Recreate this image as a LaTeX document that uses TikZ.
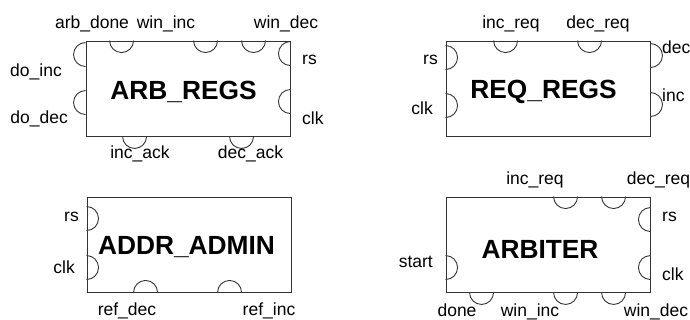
\documentclass[tikz,border=0pt]{standalone}
\usepackage{fontspec}
\setsansfont{Liberation Sans}
\usetikzlibrary{positioning}

\tikzset{
  block/.style={draw=black!80, line width=0.9pt, minimum width=204pt,
                minimum height=95pt, inner sep=0pt},
  title/.style={font=\sffamily\bfseries\fontsize{26.3}{30}\selectfont, inner sep=0pt},
  port/.style={font=\sffamily\fontsize{17.5}{20}\selectfont, inner sep=0pt},
  pinline/.style={draw=black!80, line width=0.9pt},
  % half circles for the ports, centred on the box edge
  pindown/.pic={\draw[pinline] (-12pt,0) arc[start angle=180,end angle=360,radius=12pt];},
  pinup/.pic={\draw[pinline] (-12pt,0) arc[start angle=180,end angle=0,radius=12pt];},
  pinleft/.pic={\draw[pinline] (0,12pt) arc[start angle=90,end angle=270,radius=12pt];},
  pinright/.pic={\draw[pinline] (0,12pt) arc[start angle=90,end angle=-90,radius=12pt];}
}

\begin{document}
\begin{tikzpicture}[x=1pt,y=1pt]
\useasboundingbox (0,0) rectangle (690,320);

% ARB_REGS
\node[block] (arb) at (188,231.5) {};
\node[title] (arb-title) at ([shift={(-4.5pt,-3.5pt)}]arb.center) {ARB\_REGS};
\foreach \x in {36,120,168} \pic at ([xshift=\x pt]arb.north west) {pindown};
\foreach \x in {49,156} \pic at ([xshift=\x pt]arb.south west) {pindown};
\foreach \y in {14,62} \pic at ([yshift=-\y pt]arb.north west) {pinleft};
\foreach \y in {13,61} \pic at ([yshift=-\y pt]arb.north east) {pinleft};
\node[port] (arb-done) at (92,296) {arb\_done};
\node[port] (arb-wininc) at (166,296) {win\_inc};
\node[port] (arb-windec) at (286,296) {win\_dec};
\node[port, anchor=west] (arb-rs) at (302,260) {rs};
\node[port, anchor=west] (arb-clk) at (302,202) {clk};
\node[port, anchor=east] (arb-doinc) at (62,248) {do\_inc};
\node[port, anchor=east] (arb-dodec) at (68,201.5) {do\_dec};
\node[port] (arb-incack) at (140,166) {inc\_ack};
\node[port] (arb-decack) at (250.5,166) {dec\_ack};

% REQ_REGS
\node[block] (req) at (548,231.5) {};
\node[title] (req-title) at ([shift={(-4.5pt,-3.5pt)}]req.center) {REQ\_REGS};
\foreach \x in {60,144} \pic at ([xshift=\x pt]req.north west) {pindown};
\foreach \y in {17,65} \pic at ([yshift=-\y pt]req.north west) {pinright};
\foreach \y in {15,64} \pic at ([yshift=-\y pt]req.north east) {pinright};
\node[port] (req-increq) at (511,296) {inc\_req};
\node[port] (req-decreq) at (598,296) {dec\_req};
\node[port, anchor=east] (req-rs) at (438,260) {rs};
\node[port, anchor=east] (req-clk) at (433,212) {clk};
\node[port, anchor=west] (req-dec) at (662,273) {dec};
\node[port, anchor=west] (req-inc) at (662,225) {inc};

% ADDR_ADMIN
\node[block] (addr) at (189,75.5) {};
\node[title] (addr-title) at ([shift={(-2.5pt,-2.5pt)}]addr.center) {ADDR\_ADMIN};
\foreach \y in {22,71} \pic at ([yshift=-\y pt]addr.north west) {pinright};
\foreach \x in {59,143} \pic at ([xshift=\x pt]addr.south west) {pinup};
\node[port, anchor=east] (addr-rs) at (79,103) {rs};
\node[port, anchor=east] (addr-clk) at (75,53) {clk};
\node[port] (addr-refdec) at (127,9) {ref\_dec};
\node[port] (addr-refinc) at (269,9) {ref\_inc};

% ARBITER
\node[block] (arbiter) at (548,75.5) {};
\node[title] (arbiter-title) at ([shift={(-8pt,-4.5pt)}]arbiter.center) {ARBITER};
\foreach \x in {120,168} \pic at ([xshift=\x pt]arbiter.north west) {pindown};
\foreach \x in {36,120,168} \pic at ([xshift=\x pt]arbiter.south west) {pindown};
\foreach \y in {23,71} \pic at ([yshift=-\y pt]arbiter.north east) {pinleft};
\pic at ([yshift=-71pt]arbiter.north west) {pinright};
\node[port] (arbiter-increq) at (535,140) {inc\_req};
\node[port] (arbiter-decreq) at (658.5,140) {dec\_req};
\node[port, anchor=west] (arbiter-rs) at (662,103) {rs};
\node[port, anchor=west] (arbiter-clk) at (662,46) {clk};
\node[port, anchor=east] (arbiter-start) at (433,58) {start};
\node[port] (arbiter-done) at (457,9.5) {done};
\node[port] (arbiter-wininc) at (530,8) {win\_inc};
\node[port] (arbiter-windec) at (656,8) {win\_dec};
\end{tikzpicture}
\end{document}
